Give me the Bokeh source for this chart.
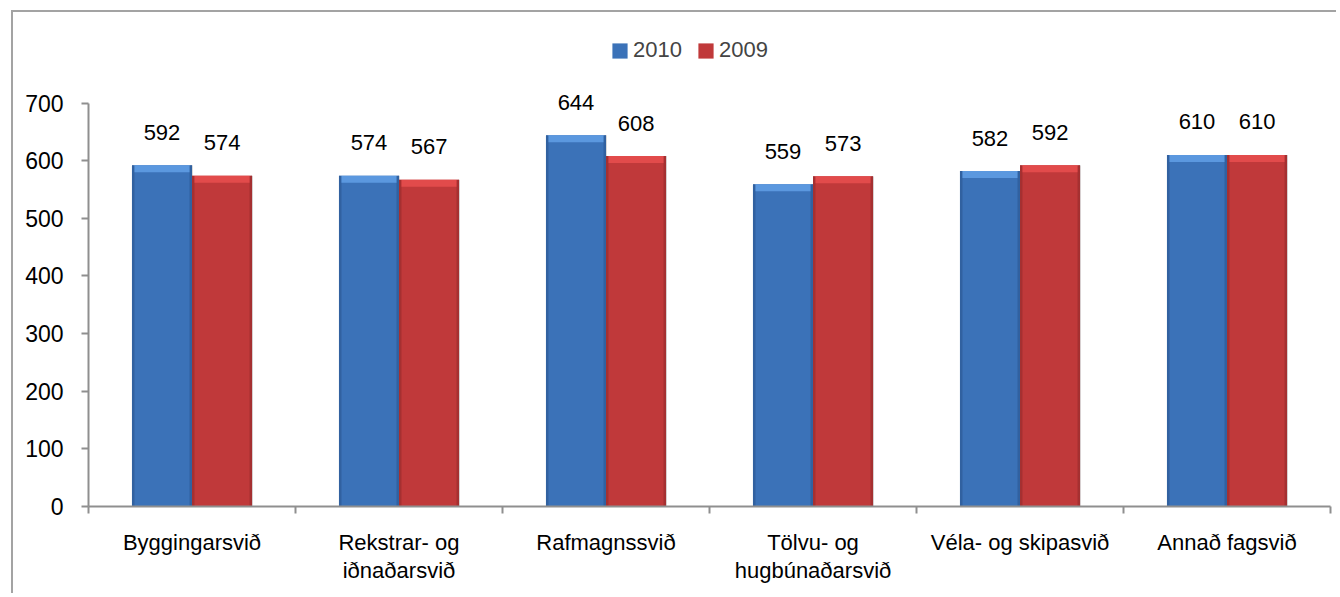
from bokeh.plotting import figure
from bokeh.models import ColumnDataSource, FixedTicker, Legend, LegendItem, Range1d
from bokeh.core.properties import value
from bokeh.embed import file_html
from bokeh.resources import INLINE

categories = ["Byggingarsvið", "Rekstrar- og\niðnaðarsvið", "Rafmagnssvið",
              "Tölvu- og\nhugbúnaðarsvið", "Véla- og skipasvið", "Annað fagsvið"]
series_names = ["2010", "2009"]
v2010 = [592, 574, 644, 559, 582, 610]
v2009 = [574, 567, 608, 573, 592, 610]
y_ticks = [0, 100, 200, 300, 400, 500, 600, 700]

FONT = "Liberation Sans"
W, H = 1325, 583
MB_TOP, MB_BOTTOM, MB_LEFT, MB_RIGHT = 12, 89, 75, 8
PX_PER_UNIT = (505.7 - 102.3) / 700.0
frame_h = H - MB_TOP - MB_BOTTOM
y_end = frame_h / PX_PER_UNIT

p = figure(width=W, height=H, output_backend="svg", toolbar_location=None,
           x_range=Range1d(0, len(categories)), y_range=Range1d(0, y_end),
           min_border_top=MB_TOP, min_border_bottom=MB_BOTTOM,
           min_border_left=MB_LEFT, min_border_right=MB_RIGHT,
           margin=(10, 0, 0, 11),
           styles={"border-left": "2px solid #a3a3a3", "border-top": "2px solid #a3a3a3"})
p.outline_line_color = None
p.grid.visible = False
p.background_fill_color = "white"
p.border_fill_color = "white"

bw = 0.29
inset = 0.012
bevel = 7 / PX_PER_UNIT
centers = [i + 0.5 for i in range(len(categories))]

styles = [
    (v2010, -bw / 2, "#2d5a96", "#3b72b8", "#5b98df"),
    (v2009, bw / 2, "#9a2c2d", "#c0393a", "#e24b4b"),
]
legend_items = []
for (vals, off, edge, body, top), name in zip(styles, series_names):
    xc = [c + off for c in centers]
    src = ColumnDataSource(dict(
        left=[x - bw / 2 for x in xc], right=[x + bw / 2 for x in xc],
        ileft=[x - bw / 2 + inset for x in xc], iright=[x + bw / 2 - inset for x in xc],
        top=vals, bev=[v - bevel for v in vals], x=xc,
        lab=[str(v) for v in vals]))
    p.quad(left="right", right="right", top="top", bottom=0, source=src,
           line_color="#d0d0d0", line_width=2, line_alpha=0.8, fill_color=None)
    r = p.quad(left="left", right="right", top="top", bottom=0, source=src,
               fill_color=body, line_color=None)
    p.quad(left="left", right="ileft", top="top", bottom=0, source=src,
           fill_color=edge, line_color=None, fill_alpha=0.7)
    p.quad(left="iright", right="right", top="top", bottom=0, source=src,
           fill_color=edge, line_color=None, fill_alpha=0.7)
    p.quad(left="ileft", right="iright", top="top", bottom="bev", source=src,
           fill_color=top, line_color=None)
    p.text(x="x", y="top", text="lab", source=src, y_offset=-33,
           text_align="center", text_baseline="middle",
           text_font=value(FONT), text_font_size="22px", text_color="black")
    legend_items.append(LegendItem(label=name, renderers=[r]))

legend = Legend(items=legend_items, location=(522, 443), orientation="horizontal",
                label_text_font=FONT, label_text_font_size="22px",
                glyph_width=19, glyph_height=19, label_standoff=4, spacing=14,
                padding=0, margin=0, border_line_color=None,
                background_fill_alpha=0)
p.add_layout(legend, "center")

ax_color = "#8f8f8f"
yax = p.yaxis[0]
yax.ticker = FixedTicker(ticks=y_ticks, minor_ticks=[])
yax.bounds = (0, 700)
yax.axis_line_color = ax_color
yax.axis_line_width = 2
yax.major_tick_line_color = ax_color
yax.major_tick_line_width = 2
yax.major_tick_out = 7
yax.major_tick_in = 0
yax.minor_tick_line_color = None
yax.major_label_standoff = 18
yax.major_label_text_font = FONT
yax.major_label_text_font_size = "23px"
yax.major_label_text_color = "black"

xax = p.xaxis[0]
xax.ticker = FixedTicker(ticks=centers, minor_ticks=list(range(len(categories) + 1)))
xax.major_label_overrides = {c: lab for c, lab in zip(centers, categories)}
xax.axis_line_color = ax_color
xax.axis_line_width = 2
xax.major_tick_line_color = None
xax.major_tick_out = 0
xax.major_tick_in = 0
xax.minor_tick_line_color = ax_color
xax.minor_tick_line_width = 2
xax.minor_tick_out = 7
xax.minor_tick_in = 0
xax.major_label_standoff = 16
xax.major_label_text_font = FONT
xax.major_label_text_font_size = "22px"
xax.major_label_text_color = "black"
xax.major_label_text_line_height = 1.15

open("out.html", "w").write(file_html(p, INLINE))
